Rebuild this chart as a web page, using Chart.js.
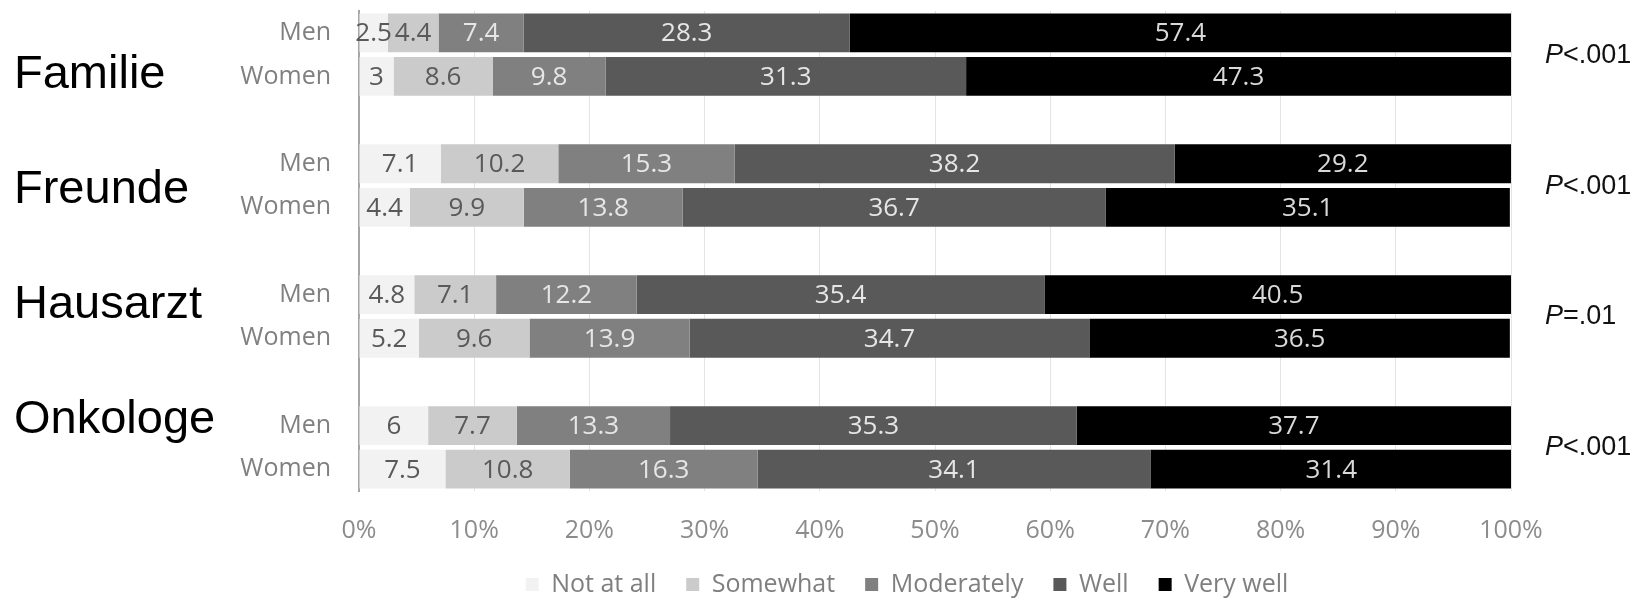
<!DOCTYPE html>
<html>
<head>
<meta charset="utf-8">
<script src="https://cdn.jsdelivr.net/npm/chart.js@4"></script>
<style>
  html, body { margin: 0; padding: 0; background: #ffffff; }
  #wrap { width: 1643px; height: 598px; position: relative; }
</style>
</head>
<body>
<div id="wrap"><canvas id="c" width="1643" height="598"></canvas></div>
<script>
// ---- data ----
const categories = ['Men', 'Women', '', 'Men', 'Women', '', 'Men', 'Women', '', 'Men', 'Women'];
const groups = ['Familie', 'Freunde', 'Hausarzt', 'Onkologe'];
const pValues = ['<.001', '<.001', '=.01', '<.001'];
const seriesNames = ['Not at all', 'Somewhat', 'Moderately', 'Well', 'Very well'];
const notAtAll   = [2.5, 3.0, null, 7.1, 4.4, null, 4.8, 5.2, null, 6.0, 7.5];
const somewhat   = [4.4, 8.6, null, 10.2, 9.9, null, 7.1, 9.6, null, 7.7, 10.8];
const moderately = [7.4, 9.8, null, 15.3, 13.8, null, 12.2, 13.9, null, 13.3, 16.3];
const well       = [28.3, 31.3, null, 38.2, 36.7, null, 35.4, 34.7, null, 35.3, 34.1];
const veryWell   = [57.4, 47.3, null, 29.2, 35.1, null, 40.5, 36.5, null, 37.7, 31.4];
const xTicks = [0, 10, 20, 30, 40, 50, 60, 70, 80, 90, 100];

// ---- styles ----
const fills = ['#f2f2f2', '#cbcbcb', '#808080', '#595959', '#000000'];
const labelColors = ['#595959', '#595959', '#e6e6e6', '#e6e6e6', '#d9d9d9'];
const uiFont = "'Open Sans', 'Noto Sans', sans-serif";

const seriesValues = [notAtAll, somewhat, moderately, well, veryWell];
const datasets = seriesValues.map((vals, i) => ({
  label: seriesNames[i],
  data: vals,
  backgroundColor: fills[i],
  borderWidth: 0,
  categoryPercentage: 1.0,
  barPercentage: 0.89
}));

const overlay = {
  id: 'overlay',
  afterLayout(chart) {
    const lg = chart.legend;
    if (lg) {
      lg.left -= 28; lg.right -= 28;
      lg.top -= 5; lg.bottom -= 5;
    }
  },
  afterDatasetsDraw(chart) {
    const ctx = chart.ctx;
    ctx.save();
    ctx.font = "26px " + uiFont;
    ctx.textAlign = 'center';
    ctx.textBaseline = 'middle';
    chart.data.datasets.forEach((ds, di) => {
      const meta = chart.getDatasetMeta(di);
      meta.data.forEach((bar, i) => {
        const v = ds.data[i];
        if (v === null || v === undefined) return;
        ctx.fillStyle = labelColors[di];
        ctx.fillText(String(v), (bar.x + bar.base) / 2, bar.y + 1);
      });
    });
    ctx.restore();
  },
  afterDraw(chart) {
    const ctx = chart.ctx;
    const area = chart.chartArea;
    const y = chart.scales.y;
    ctx.save();
    ctx.font = "47px 'Liberation Sans', Arial, sans-serif";
    ctx.fillStyle = '#000000';
    ctx.textAlign = 'left';
    ctx.textBaseline = 'alphabetic';
    const h = area.bottom - area.top;
    groups.forEach((g, i) => {
      ctx.fillText(g, 14, area.top + h * (0.160 + i * 0.2395));
    });
    groups.forEach((g, i) => {
      const cy = (y.getPixelForValue(i * 3) + y.getPixelForValue(i * 3 + 1)) / 2 + 8;
      const x0 = area.right + 34;
      ctx.font = "italic 27px 'Liberation Sans', Arial, sans-serif";
      ctx.fillStyle = '#111111';
      ctx.fillText('P', x0, cy);
      const w = ctx.measureText('P').width;
      ctx.font = "27px 'Liberation Sans', Arial, sans-serif";
      ctx.fillText(pValues[i], x0 + w, cy);
    });
    ctx.restore();
  }
};

new Chart(document.getElementById('c'), {
  type: 'bar',
  data: { labels: categories, datasets: datasets },
  options: {
    responsive: false,
    animation: false,
    indexAxis: 'y',
    layout: { padding: { top: 11, right: 132, bottom: -14, left: 0 } },
    scales: {
      x: {
        stacked: true,
        min: 0,
        max: 100,
        afterBuildTicks(scale) { scale.ticks = xTicks.map(v => ({ value: v })); },
        afterFit(scale) { scale.height = 56; scale.paddingTop = 0; scale.paddingBottom = 0; },
        ticks: {
          callback: v => v + '%',
          color: '#8c8c8c',
          font: { family: uiFont, size: 25 },
          padding: 25,
          maxRotation: 0
        },
        grid: { color: '#e4e4e4', lineWidth: 1, drawTicks: false },
        border: { display: false }
      },
      y: {
        stacked: true,
        afterFit(scale) { scale.width = 359; scale.paddingTop = 0; scale.paddingBottom = 0; },
        ticks: {
          color: '#808080',
          font: { family: uiFont, size: 25 },
          padding: 28
        },
        grid: { display: false, drawTicks: false },
        border: { display: true, color: '#a6a6a6', width: 2 }
      }
    },
    plugins: {
      legend: {
        position: 'bottom',
        fullSize: false,
        labels: {
          color: '#7f7f7f',
          font: { family: uiFont, size: 25 },
          boxWidth: 13,
          boxHeight: 13,
          padding: 30
        }
      },
      tooltip: { enabled: false }
    }
  },
  plugins: [overlay]
});
</script>
</body>
</html>
